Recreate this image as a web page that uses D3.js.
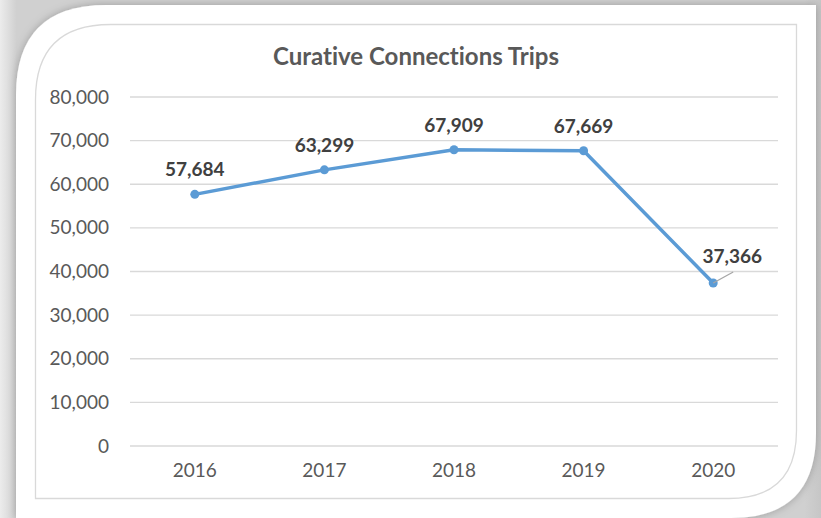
<!DOCTYPE html>
<html>
<head>
<meta charset="utf-8">
<script src="https://cdn.jsdelivr.net/npm/d3@7"></script>
<style>
  html, body { margin: 0; padding: 0; background: #ffffff; }
  svg { display: block; }
  text { font-family: Lato, "Open Sans", sans-serif; font-variant-ligatures: none; font-feature-settings: "liga" 0, "dlig" 0; }
</style>
</head>
<body>
<div id="chart"></div>
<script>
const years = ['2016', '2017', '2018', '2019', '2020'];
const trips = [57684, 63299, 67909, 67669, 37366];
const yTicks = [0, 10000, 20000, 30000, 40000, 50000, 60000, 70000, 80000];
const chartTitle = 'Curative Connections Trips';

const W = 821, H = 518;
const margin = { top: 97, right: 43, bottom: 72, left: 130 };
const width = W - margin.left - margin.right;
const height = H - margin.top - margin.bottom;

const svg = d3.select('#chart').append('svg')
  .attr('width', W)
  .attr('height', H);

// background + card with shadow
const defs = svg.append('defs');
const bg = defs.append('linearGradient').attr('id', 'bgGrad')
  .attr('x1', 0).attr('x2', 1).attr('y1', 0).attr('y2', 0);
bg.append('stop').attr('offset', '0%').attr('stop-color', '#ececec');
bg.append('stop').attr('offset', '2%').attr('stop-color', '#d0d0d0');
bg.append('stop').attr('offset', '98%').attr('stop-color', '#d0d0d0');
bg.append('stop').attr('offset', '100%').attr('stop-color', '#c6c6c6');

const shadow = defs.append('filter').attr('id', 'shadow')
  .attr('x', '-10%').attr('y', '-10%').attr('width', '120%').attr('height', '120%');
shadow.append('feDropShadow')
  .attr('dx', 0).attr('dy', 0).attr('stdDeviation', 4)
  .attr('flood-color', '#000').attr('flood-opacity', 0.25);

svg.append('rect').attr('width', W).attr('height', H).attr('fill', 'url(#bgGrad)');

// rounded top-left and bottom-right corners
function cornerPath(x0, y0, x1, y1, r1, r2) {
  return `M${x0},${y0 + r1} Q${x0},${y0} ${x0 + r1},${y0} L${x1},${y0} L${x1},${y1 - r2} ` +
    `Q${x1},${y1} ${x1 - r2},${y1} L${x0},${y1} Z`;
}

svg.append('path')
  .attr('d', cornerPath(16, 5, 816, 518, 90, 85))
  .attr('fill', '#ffffff')
  .attr('filter', 'url(#shadow)');

svg.append('path')
  .attr('d', cornerPath(35.5, 24.5, 796.5, 498.5, 75, 68))
  .attr('fill', 'none')
  .attr('stroke', '#d9d9d9')
  .attr('stroke-width', 1.3);

// title
svg.append('text')
  .attr('x', 416)
  .attr('y', 65)
  .attr('text-anchor', 'middle')
  .attr('font-size', 24)
  .attr('font-weight', 'bold')
  .attr('fill', '#595959')
  .text(chartTitle);

const g = svg.append('g').attr('transform', `translate(${margin.left},${margin.top})`);

const x = d3.scaleBand().domain(years).range([0, width]);
const y = d3.scaleLinear().domain([0, 80000]).range([height, 0]);

// gridlines
g.append('g')
  .selectAll('line')
  .data(yTicks)
  .join('line')
  .attr('x1', 0).attr('x2', width)
  .attr('y1', d => y(d)).attr('y2', d => y(d))
  .attr('stroke', '#d9d9d9')
  .attr('stroke-width', 1.3);

// y axis
const yAxis = g.append('g')
  .call(d3.axisLeft(y).tickValues(yTicks).tickFormat(d3.format(',')).tickSize(0).tickPadding(21));
yAxis.select('.domain').remove();
yAxis.selectAll('text')
  .attr('font-size', 19)
  .attr('fill', '#595959')
  .style('font-family', 'Lato, sans-serif');

// x axis
const xAxis = g.append('g')
  .attr('transform', `translate(0,${height})`)
  .call(d3.axisBottom(x).tickSize(0).tickPadding(18));
xAxis.select('.domain').remove();
xAxis.selectAll('text')
  .attr('font-size', 19)
  .attr('fill', '#595959')
  .style('font-family', 'Lato, sans-serif');

const cx = d => x(d) + x.bandwidth() / 2;

// line
const line = d3.line()
  .x((d, i) => cx(years[i]))
  .y(d => y(d));

g.append('path')
  .datum(trips)
  .attr('fill', 'none')
  .attr('stroke', '#5b9bd5')
  .attr('stroke-width', 3.5)
  .attr('stroke-linejoin', 'round')
  .attr('stroke-linecap', 'round')
  .attr('d', line);

// markers
g.selectAll('circle.pt')
  .data(trips)
  .join('circle')
  .attr('class', 'pt')
  .attr('cx', (d, i) => cx(years[i]))
  .attr('cy', d => y(d))
  .attr('r', 4.5)
  .attr('fill', '#5b9bd5');

// leader line for the last label
const last = trips.length - 1;
g.append('line')
  .attr('x1', cx(years[last]))
  .attr('y1', y(trips[last]))
  .attr('x2', cx(years[last]) + 20)
  .attr('y2', y(trips[last]) - 11)
  .attr('stroke', '#a6a6a6')
  .attr('stroke-width', 1.3);

// data labels
g.selectAll('text.lbl')
  .data(trips)
  .join('text')
  .attr('class', 'lbl')
  .attr('x', (d, i) => cx(years[i]) + (i === last ? 19 : 0))
  .attr('y', (d, i) => y(d) - (i === last ? 20 : 18))
  .attr('text-anchor', 'middle')
  .attr('font-size', 19)
  .attr('font-weight', 'bold')
  .attr('fill', '#404040')
  .text(d => d3.format(',')(d));
</script>
</body>
</html>
